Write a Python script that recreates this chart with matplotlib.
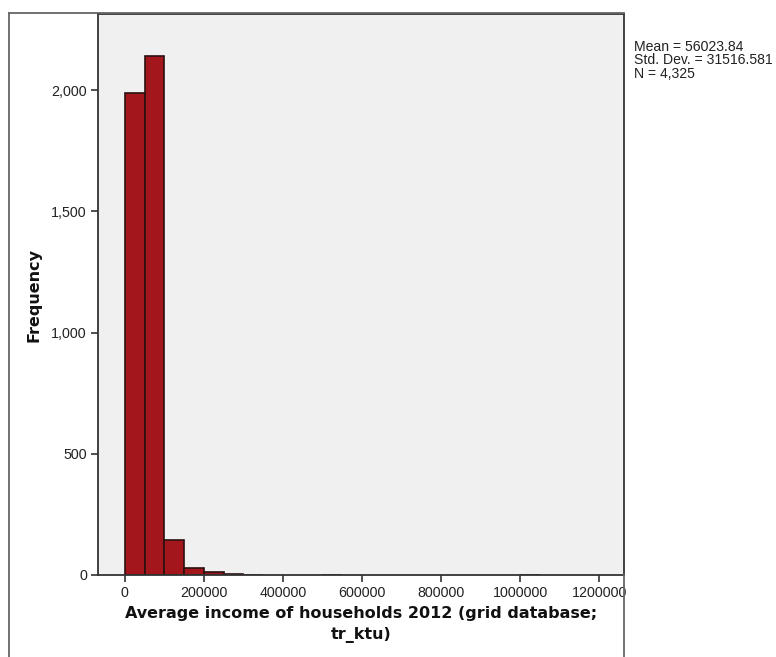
import numpy as np
import matplotlib.pyplot as plt
from matplotlib.lines import Line2D
from matplotlib.ticker import FuncFormatter

plt.rcParams['font.family'] = ['Liberation Sans', 'DejaVu Sans']

# histogram bins (width 50000) and their counts
bin_width = 50000
bin_starts = [0, 50000, 100000, 150000, 200000, 250000, 300000, 500000, 1000000]
counts = [1988, 2142, 145, 28, 14, 5, 1, 1, 1]

stats_text = ["Mean = 56023.84", "Std. Dev. = 31516.581", "N = 4,325"]
x_ticks = [0, 200000, 400000, 600000, 800000, 1000000, 1200000]
y_ticks = [0, 500, 1000, 1500, 2000]

W, H = 776, 657
fig = plt.figure(figsize=(W / 100, H / 100), dpi=100)
ax = fig.add_axes([98 / W, 1 - 575 / H, (624 - 98) / W, (575 - 14) / H])
ax.set_facecolor('#f0f0f0')

ax.bar(bin_starts, counts, width=bin_width, align='edge',
       color='#a3161c', edgecolor='#2a1010', linewidth=1.2)

ax.set_xlim(-68000, 1263000)
ax.set_ylim(0, 2314)
ax.set_xticks(x_ticks)
ax.set_yticks(y_ticks)
ax.yaxis.set_major_formatter(FuncFormatter(lambda v, p: f"{int(v):,}"))
ax.xaxis.set_major_formatter(FuncFormatter(lambda v, p: f"{int(v)}"))
ax.tick_params(axis='both', direction='out', length=5, width=1.2,
               color='#333333', labelsize=10.3, labelcolor='#222222', pad=3)

for s in ax.spines.values():
    s.set_color('#333333')
    s.set_linewidth(1.3)

label_font = dict(family='DejaVu Sans', fontsize=11.5, fontweight='bold', color='#111111')
ax.set_ylabel('Frequency', labelpad=7, **label_font)
ax.set_xlabel('Average income of households 2012 (grid database;\ntr_ktu)',
              labelpad=4, linespacing=1.55, **label_font)

# outer chart frame
frame_kw = dict(color='#666666', linewidth=1.3, transform=fig.transFigure)
fig.add_artist(Line2D([9 / W, 9 / W], [0, 1 - 13 / H], **frame_kw))
fig.add_artist(Line2D([9 / W, 624 / W], [1 - 13 / H, 1 - 13 / H], **frame_kw))
fig.add_artist(Line2D([624 / W, 624 / W], [0, 1 - 575 / H], **frame_kw))

fig.text(634 / W, 1 - 40 / H, "\n".join(stats_text), fontsize=10.1,
         color='#222222', va='top', ha='left', linespacing=0.95)

fig.savefig('out.png', dpi=100)
